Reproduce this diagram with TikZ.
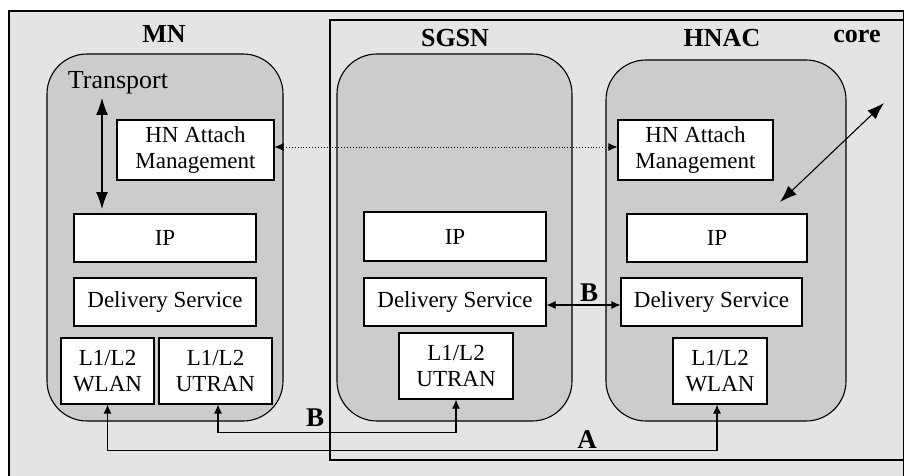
\documentclass[tikz,border=0pt]{standalone}
\usepackage{fontspec}
\setmainfont{Liberation Serif}
\usetikzlibrary{arrows.meta}
\definecolor{bgray}{RGB}{228,228,228}
\definecolor{cgray}{RGB}{204,204,204}
\tikzset{
  layerbox/.style={draw=black, fill=white, line width=1.1pt, inner sep=0pt, align=center,
    font=\fontsize{23}{26.7}\selectfont},
  container/.style={draw=black, fill=cgray, line width=1.1pt, rounded corners=40pt, inner sep=0pt},
  title/.style={font=\fontsize{26}{30}\selectfont\bfseries, inner sep=0pt},
  lbl/.style={font=\fontsize{27}{30}\selectfont\bfseries, inner sep=0pt},
  bigarrow/.style={line width=1.1pt, {Latex[length=17pt,width=12pt]}-{Latex[length=17pt,width=12pt]}},
  smallarrow/.style={line width=1.1pt, {Latex[length=9pt,width=8pt]}-{Latex[length=9pt,width=8pt]}},
  dotarrow/.style={line width=0.9pt, dotted, {Latex[length=9pt,width=8pt]}-{Latex[length=9pt,width=8pt]}},
}
\begin{document}
\begin{tikzpicture}[x=1pt,y=-1pt]
\useasboundingbox (0,0) rectangle (904,476);
\clip (0,0) rectangle (904,476);
\fill[white] (0,0) rectangle (904,476);
% outer frame
\draw[fill=bgray, line width=1.3pt] (9,11) rectangle (903.5,490);
% core frame
\draw[line width=1.1pt] (330,20) rectangle (903.5,460);
% containers
\node[container, minimum width=236pt, minimum height=367pt] (mn) at (165,237.5) {};
\node[container, minimum width=235pt, minimum height=367pt] (sgsn) at (454.5,237.5) {};
\node[container, minimum width=240pt, minimum height=361pt] (hnac) at (726,240.5) {};
% titles
\node[title] (mnt) at (164,34) {MN};
\node[title] (sgt) at (455,38) {SGSN};
\node[title] (hnt) at (722,38) {HNAC};
\node[title] (coret) at (857,36) {core};
\node[font=\fontsize{26}{30}\selectfont, inner sep=0pt] (transport) at (118,83) {Transport};
% MN boxes
\node[layerbox, minimum width=157pt, minimum height=60pt] (mnhn) at (195.5,150) {HN Attach\\Management};
\node[layerbox, minimum width=182pt, minimum height=48pt] (mnip) at (165,238) {IP};
\node[layerbox, minimum width=182pt, minimum height=48pt] (mndel) at (165,302) {Delivery Service};
\node[layerbox, minimum width=93pt, minimum height=66pt] (mnwlan) at (107.5,371) {L1/L2\\WLAN};
\node[layerbox, minimum width=113pt, minimum height=66pt] (mnutran) at (215.5,371) {L1/L2\\UTRAN};
% SGSN boxes
\node[layerbox, minimum width=182pt, minimum height=49pt] (sgip) at (455,236.5) {IP};
\node[layerbox, minimum width=182pt, minimum height=48pt] (sgdel) at (455,302) {Delivery Service};
\node[layerbox, minimum width=114pt, minimum height=66pt] (sgutran) at (456,366) {L1/L2\\UTRAN};
% HNAC boxes
\node[layerbox, minimum width=155pt, minimum height=60pt] (hnhn) at (695.5,150) {HN Attach\\Management};
\node[layerbox, minimum width=180pt, minimum height=48pt] (hnip) at (717,238) {IP};
\node[layerbox, minimum width=181pt, minimum height=48pt] (hndel) at (711.5,302) {Delivery Service};
\node[layerbox, minimum width=94pt, minimum height=66pt] (hnwlan) at (720,371) {L1/L2\\WLAN};
% transport arrow
\coordinate (tr1) at (102,98);
\coordinate (tr2) at (102,209);
\draw[bigarrow] (tr1) -- (tr2);
% diagonal arrow
\coordinate (dg1) at (780,202);
\coordinate (dg2) at (884,103);
\draw[bigarrow] (dg1) -- (dg2);
% dotted
\draw[dotarrow] ([yshift=3pt]mnhn.east) -- ([yshift=3pt]hnhn.west);
% B between delivery
\draw[smallarrow] ([yshift=-3pt]sgdel.east) -- ([yshift=-3pt]hndel.west);
\node[lbl] (b1) at (589,293) {B};
% bottom connectors
\draw[smallarrow] ([xshift=2.5pt]mnutran.south) -- ++(0,28) -| (sgutran.south);
\node[lbl] (b2) at (315,418) {B};
\draw[smallarrow] (mnwlan.south) -- ++(0,46) -| ([xshift=-3pt]hnwlan.south);
\node[lbl] (a1) at (587,440) {A};
\end{tikzpicture}
\end{document}
